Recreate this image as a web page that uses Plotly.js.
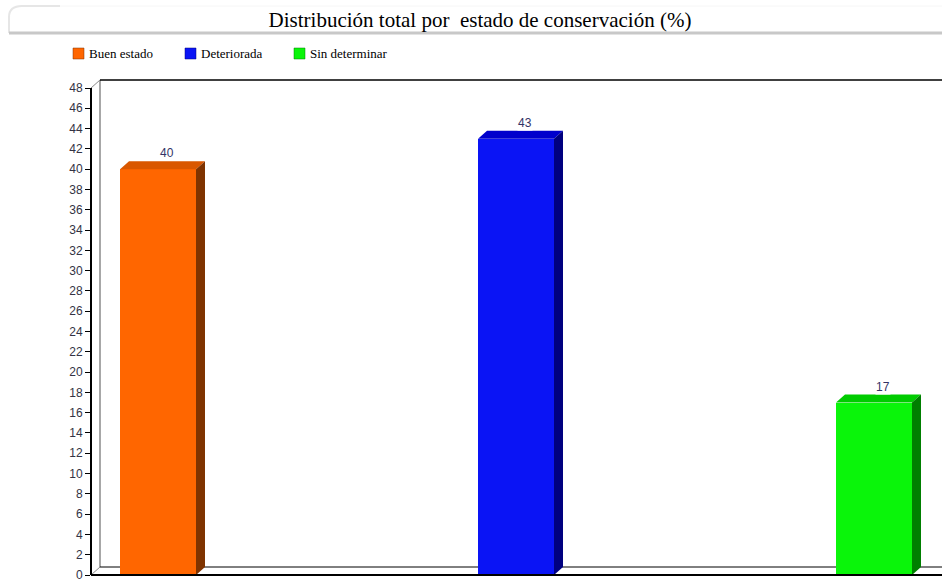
<!DOCTYPE html>
<html>
<head>
<meta charset="utf-8">
<script src="https://cdn.plot.ly/plotly-3.0.1.min.js"></script>
<style>html,body{margin:0;padding:0;background:#fff;}#chart{width:942px;height:581px;}</style>
</head>
<body>
<div id="chart"></div>
<script>
// ---- data ----
const categories = ["Buen estado", "Deteriorada", "Sin determinar"];
const values = [40, 43, 17];
const frontColors = ["#FF6600", "#0A14F5", "#0AF50A"];
const topColors = ["#D95700", "#0000CC", "#00CC00"];
const sideColors = ["#7F3300", "#00007F", "#007F00"];
const yTicks = [0,2,4,6,8,10,12,14,16,18,20,22,24,26,28,30,32,34,36,38,40,42,44,46,48];

// ---- geometry (styling) ----
const W = 942, H = 581;
const ML = 91, MR = 0, MT = 80, MB = 6;
const plotW = W - ML - MR, plotH = H - MT - MB;
const pxPerX = 358;              // pixels per category step
const pxPerY = 487 / 48;         // pixels per unit
const depthPx = 9, depthPy = 8;  // 3D depth offset in pixels
const xMin = -(158 - ML) / pxPerX;
const xMax = xMin + plotW / pxPerX;
const yMax = plotH / pxPerY;
const DX = depthPx / pxPerX;
const DY = depthPy / pxPerY;
const barW = 76 / pxPerX;

const PX = p => (p - ML) / plotW;
const PY = p => (H - MB - p) / plotH;

const xs = categories.map((c, i) => i);
const traces = [];
traces.push({
  type: 'bar', x: xs, y: values, width: barW,
  marker: {color: frontColors, line: {width: 0}},
  hoverinfo: 'skip', showlegend: false
});
xs.forEach((x, i) => {
  const v = values[i], x0 = x - barW / 2, x1 = x + barW / 2;
  traces.push({
    type: 'scatter', mode: 'lines', fill: 'toself', fillcolor: topColors[i],
    line: {width: 0, color: topColors[i]},
    x: [x0, x1, x1 + DX, x0 + DX, x0], y: [v, v, v + DY, v + DY, v],
    showlegend: false, hoverinfo: 'skip'
  });
  traces.push({
    type: 'scatter', mode: 'lines', fill: 'toself', fillcolor: sideColors[i],
    line: {width: 0, color: sideColors[i]},
    x: [x1, x1 + DX, x1 + DX, x1, x1], y: [0, DY, v + DY, v, 0],
    showlegend: false, hoverinfo: 'skip'
  });
});

const dxp = depthPx / plotW, dyp = depthPy / plotH;
const yTop = 48 / yMax;
const shapes = [
  // back wall & floor
  {type:'line', xref:'paper', yref:'paper', x0:dxp, y0:dyp, x1:dxp, y1:1, line:{color:'#8a8a8a', width:1.5}, layer:'below'},
  {type:'line', xref:'paper', yref:'paper', x0:dxp, y0:1, x1:1, y1:1, line:{color:'#000', width:1.5}, layer:'below'},
  {type:'line', xref:'paper', yref:'paper', x0:0, y0:yTop, x1:dxp, y1:1, line:{color:'#8a8a8a', width:1}, layer:'below'},
  {type:'line', xref:'paper', yref:'paper', x0:dxp, y0:dyp, x1:1, y1:dyp, line:{color:'#000', width:1}, layer:'below'},
  {type:'line', xref:'paper', yref:'paper', x0:0, y0:0, x1:dxp, y1:dyp, line:{color:'#8a8a8a', width:1}, layer:'below'},
  // front axes
  {type:'line', xref:'paper', yref:'paper', x0:0, y0:0, x1:0, y1:yTop, line:{color:'#000', width:2}},
  {type:'line', xref:'paper', yref:'paper', x0:0, y0:0, x1:1, y1:0, line:{color:'#000', width:2}},
  // title box
  {type:'path', xref:'paper', yref:'paper',
   path: 'M ' + PX(9) + ',' + PY(33) + ' L ' + PX(9) + ',' + PY(17) + ' Q ' + PX(9) + ',' + PY(6) + ' ' + PX(22) + ',' + PY(6) + ' L ' + PX(60) + ',' + PY(6),
   line:{color:'#e6e6e6', width:2}},
  {type:'line', xref:'paper', yref:'paper', x0:PX(60), y0:PY(6), x1:PX(942), y1:PY(6), line:{color:'#f6f6f6', width:1}},
  {type:'line', xref:'paper', yref:'paper', x0:PX(9), y0:PY(33), x1:PX(942), y1:PY(33), line:{color:'#c8c8c8', width:3}}
];

const annotations = [];
xs.forEach((x, i) => {
  annotations.push({
    xref:'x', yref:'y', x: x + DX, y: values[i] + DY, yanchor:'bottom', xanchor:'center',
    text: String(values[i]), showarrow:false, bgcolor:'#fff', borderpad:0,
    font:{family:'Liberation Sans, Arial, sans-serif', size:12, color:'#333366'}
  });
});
// custom legend
const legSq = [73, 185, 294], legTx = [87, 199, 308];
categories.forEach((c, i) => {
  shapes.push({type:'rect', xref:'paper', yref:'paper', x0:PX(legSq[i]), x1:PX(legSq[i] + 11), y0:PY(59), y1:PY(48),
    fillcolor: frontColors[i], line:{color: sideColors[i], width:0.5}});
  annotations.push({xref:'paper', yref:'paper', x:PX(legTx[i]), y:PY(53.5), xanchor:'left', yanchor:'middle',
    text:c, showarrow:false, font:{family:'Liberation Serif, Times New Roman, serif', size:13, color:'#000'}});
});

const layout = {
  width: W, height: H,
  margin: {l: ML, r: MR, t: MT, b: MB, pad: 0},
  paper_bgcolor: '#fff', plot_bgcolor: 'rgba(0,0,0,0)',
  title: {text: 'Distribución total por  estado de conservación (%)', x: 480 / W, xref: 'container', xanchor: 'center',
    y: 1 - 20 / H, yref: 'container', yanchor: 'middle',
    font: {family: 'Liberation Serif, Times New Roman, serif', size: 21, color: '#000'}},
  showlegend: false,
  xaxis: {range: [xMin, xMax], showgrid: false, zeroline: false, showline: false, showticklabels: false, ticks: '', fixedrange: true},
  yaxis: {range: [0, yMax], showgrid: false, zeroline: false, showline: false,
    tickmode: 'array', tickvals: yTicks, ticktext: yTicks.map(String),
    ticks: 'outside', ticklen: 5, tickcolor: '#000', tickwidth: 1, ticklabeloverflow: 'allow',
    tickfont: {family: 'Liberation Sans, Arial, sans-serif', size: 12, color: '#333344'}},
  shapes: shapes, annotations: annotations, bargap: 0
};
Plotly.newPlot('chart', traces, layout, {staticPlot: true, displayModeBar: false});
</script>
</body>
</html>
